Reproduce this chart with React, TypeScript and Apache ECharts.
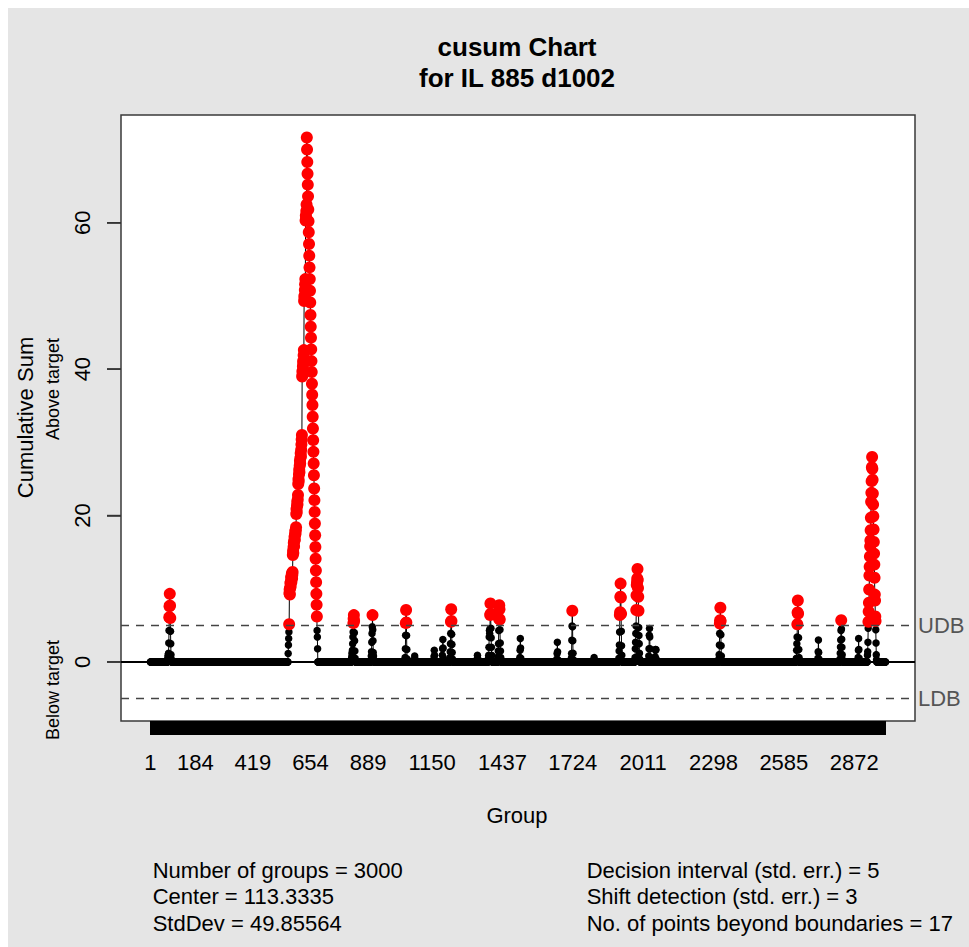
import React, { useEffect, useRef } from 'react';
import * as echarts from 'echarts';

// ---------------- data ----------------
const NUM_GROUPS = 3000;
const UDB = 5;
const LDB = -5;
const CENTER_LINE = 0;

const X_TICK_LABELS = [1, 184, 419, 654, 889, 1150, 1437, 1724, 2011, 2298, 2585, 2872];
const Y_TICK_VALUES = [0, 20, 40, 60];

// Non-zero stretches of the upper cumulative sum: first group of each stretch
const runStarts = [
  72, 563, 822, 902, 1040, 1078, 1158, 1192, 1223, 1334, 1380, 1419, 1508, 1659,
  1718, 1810, 1912, 1978, 2034, 2060, 2320, 2636, 2724, 2814, 2888, 2926,
];

// ...and the consecutive values of each stretch
const runValues = [
  [0.5, 0.9, 0.6, 1.2, 2.6, 4.3, 6.1, 7.6, 9.3, 7.7, 6.0, 4.2, 2.5, 1.0, 0.4],
  [
    1.15, 2.3, 3.2, 4.1, 5.15,
    9.4, 9.9, 9.2, 10.1, 10.8, 10.3, 11.0, 11.6, 10.9, 11.5, 12.1, 11.4, 11.9, 12.3,
    14.6, 15.2, 14.9, 15.7, 16.3, 15.8, 16.6, 17.1, 16.7, 17.4, 17.9, 17.5, 18.0, 18.4,
    20.2, 20.9, 20.5, 21.3, 21.9, 21.5, 22.2, 22.8,
    24.3, 25.0, 24.7, 25.6, 26.3, 25.9, 26.8, 27.5, 27.1, 27.9, 28.5, 28.1, 29.0, 29.7, 30.4, 31.0,
    39.0, 39.7, 39.3, 40.4, 41.1, 40.8, 41.9, 42.6,
    49.3, 50.0, 49.7, 50.8, 51.6, 52.3,
    60.3, 61.0, 60.7, 61.6, 62.5,
    71.65,
    70.0, 68.3, 66.7, 65.2, 63.6, 61.8, 60.2, 58.7, 57.1, 55.5, 53.9, 52.3, 50.7, 49.1, 47.4,
    45.8, 44.3, 42.7, 41.1, 39.6, 38.0, 36.5, 35.1, 33.5, 31.9, 30.3, 28.7, 27.1, 25.5, 23.7,
    22.1, 20.5, 18.9, 17.3, 15.7, 14.1, 12.5, 10.9, 9.3, 7.8, 6.2, 4.3, 3.4, 1.8,
  ],
  [0.6, 1.2, 0.8, 1.6, 2.5, 3.4, 4.1, 5.3, 5.9, 6.4, 5.6, 4.0, 2.9, 1.5, 0.5],
  [0.8, 1.4, 2.7, 3.9, 4.8, 6.4, 4.4, 2.9, 1.3, 0.8, 0.3],
  [0.6, 1.8, 3.65, 5.3, 7.1, 5.4, 3.6, 1.7, 0.4],
  [0.3, 0.8, 0.4],
  [0.7, 1.6, 0.9],
  [0.9, 1.8, 3.06, 1.9, 0.5],
  [0.6, 1.4, 2.5, 3.9, 5.5, 7.2, 5.6, 3.8, 2.4, 1.3, 0.4],
  [0.4, 0.9, 0.5],
  [0.5, 0.9, 2.0, 3.4, 4.3, 3.9, 4.5, 6.4, 8.0, 6.6, 4.6, 3.3, 2.0, 0.9, 0.3],
  [0.7, 1.5, 2.5, 4.3, 5.9, 7.75, 7.2, 5.8, 4.4, 2.6, 1.5, 0.6],
  [0.6, 1.6, 3.2, 1.9, 0.5],
  [0.4, 1.15, 2.7, 1.4, 0.3],
  [0.5, 1.15, 2.97, 4.9, 7.0, 4.8, 2.9, 1.2, 0.3],
  [0.3, 0.6, 0.2],
  [0.5, 1.5, 2.3, 4.1, 6.4, 6.8, 8.9, 10.7, 8.8, 6.6, 4.2, 2.2, 0.9],
  [0.6, 1.8, 2.7, 3.9, 4.9, 7.1, 9.1, 10.5, 10.9, 11.4, 12.7, 11.2, 10.1, 8.9, 7.0, 4.7, 3.6, 2.5, 1.2, 0.4],
  [0.8, 1.8, 3.65, 4.56, 3.4, 1.8, 0.6],
  [0.7, 1.7, 1.6, 1.7, 0.4],
  [0.4, 1.0, 2.3, 3.9, 5.25, 5.7, 7.4, 5.6, 3.7, 2.2, 0.8],
  [0.5, 1.6, 2.5, 3.4, 5.15, 6.75, 8.4, 6.6, 4.9, 3.3, 1.7, 0.6],
  [0.5, 1.4, 3.0, 1.3, 0.4],
  [0.4, 1.2, 2.05, 3.0, 4.3, 5.7, 4.5, 3.1, 2.0, 1.0, 0.3],
  [0.6, 1.6, 3.2, 1.7, 0.5],
  [
    0.9, 1.4, 2.7, 4.6, 5.5, 6.9, 8.1, 9.9, 11.8, 13.0, 14.4, 15.8, 16.6, 18.0, 19.7, 21.9,
    23.1, 24.7, 26.6, 28.0,
    26.4, 24.9, 23.0, 21.5, 19.9, 18.1, 16.4, 14.8, 13.3, 11.5, 9.2, 8.4, 6.2, 5.6, 4.4, 2.6,
    1.0, 0.3,
  ],
];

const TITLE = 'cusum Chart\nfor IL 885 d1002';
const statsLeft = ['Number of groups = 3000', 'Center = 113.3335', 'StdDev = 49.85564'];
const statsRight = [
  'Decision interval (std. err.) = 5',
  'Shift detection (std. err.) = 3',
  'No. of points beyond boundaries = 17',
];

// ---------------- layout ----------------
const W = 961;
const H = 939;
const FONT = "'Liberation Sans', Arial, Helvetica, sans-serif";
const GRID = { left: 113, top: 107, right: 54, bottom: 226 };
const X_MIN = -118.96;
const X_MAX = 3119.96;
const Y_MIN = -8.066;
const Y_MAX = 74.716;
const TICK_LEN = 14;
const GRID_W = W - GRID.left - GRID.right;
const TICK_SPAN = (TICK_LEN * (X_MAX - X_MIN)) / GRID_W; // tick length in x-axis units

function buildUpper(): number[][] {
  const vals: number[] = new Array(NUM_GROUPS).fill(0);
  runStarts.forEach((s, i) => {
    runValues[i].forEach((v, j) => {
      const g = s + j;
      if (g >= 1 && g <= NUM_GROUPS) vals[g - 1] = v;
    });
  });
  return vals.map((v, i) => [i + 1, v]);
}

export default function App() {
  const ref = useRef<HTMLDivElement>(null);
  useEffect(() => {
    document.documentElement.style.overflow = 'hidden';
    if (!ref.current) return;
    const chart = echarts.init(ref.current, undefined, { renderer: 'svg' });
    const upper = buildUpper();
    const beyond = upper.filter((p) => p[1] > UDB || p[1] < LDB);
    const allGroups: number[] = [];
    for (let g = 1; g <= NUM_GROUPS; g++) allGroups.push(g);

    const textEl = (text: string, x: number, y: number, size: number, extra: any = {}) => ({
      type: 'text',
      x,
      y,
      silent: true,
      ...extra,
      style: {
        text,
        fill: '#000',
        font: `${size}px ${FONT}`,
        align: 'left',
        verticalAlign: 'middle',
        ...(extra.style || {}),
      },
    });

    const texts: any[] = [
      textEl('Cumulative Sum', 17, 409.5, 22, { rotation: Math.PI / 2, style: { align: 'center' } }),
      textEl('Above target', 45, 381, 18, { rotation: Math.PI / 2, style: { align: 'center' } }),
      textEl('Below target', 45, 682, 18, { rotation: Math.PI / 2, style: { align: 'center' } }),
      textEl('Group', 509, 807, 22, { style: { align: 'center' } }),
      ...statsLeft.map((t, i) => textEl(t, 144.7, 862 + i * 26.5, 22)),
      ...statsRight.map((t, i) => textEl(t, 578.7, 862 + i * 26.5, 22)),
    ];

    chart.setOption({
      animation: false,
      backgroundColor: '#e5e5e5',
      title: {
        text: TITLE,
        left: 509,
        top: 23,
        padding: 0,
        textAlign: 'center',
        textStyle: { fontFamily: FONT, fontSize: 26, fontWeight: 'bold', lineHeight: 31, color: '#000' },
      },
      grid: {
        ...GRID,
        show: true,
        backgroundColor: '#ffffff',
        borderColor: '#3a3a3a',
        borderWidth: 1.5,
        containLabel: false,
        outerBoundsMode: 'none',
      },
      xAxis: [
        {
          type: 'value',
          min: X_MIN,
          max: X_MAX,
          axisLine: { show: false, onZero: false },
          splitLine: { show: false },
          axisTick: {
            show: true,
            length: TICK_LEN,
            customValues: allGroups,
            lineStyle: { color: '#000', width: 1 },
          },
          axisLabel: {
            show: true,
            customValues: X_TICK_LABELS,
            margin: 30,
            fontFamily: FONT,
            fontSize: 22,
            color: '#000',
            formatter: (v: number) => String(Math.round(v)),
          },
        },
        {
          type: 'value',
          min: 0,
          max: 1,
          show: false,
          axisLine: { onZero: false },
        },
      ],
      yAxis: {
        type: 'value',
        min: Y_MIN,
        max: Y_MAX,
        axisLine: { show: false, onZero: true, onZeroAxisIndex: 1 },
        splitLine: { show: false },
        axisTick: {
          show: true,
          length: TICK_LEN,
          customValues: Y_TICK_VALUES,
          lineStyle: { color: '#333', width: 1.5 },
        },
        axisLabel: {
          show: true,
          customValues: Y_TICK_VALUES,
          rotate: 90,
          margin: 28,
          fontFamily: FONT,
          fontSize: 22,
          color: '#000',
          formatter: (v: number) => String(Math.round(v)),
        },
      },
      series: [
        {
          type: 'line',
          name: 'cusum',
          data: upper,
          symbol: 'circle',
          symbolSize: 7.5,
          showSymbol: true,
          showAllSymbol: true,
          itemStyle: { color: '#000', opacity: 1 },
          lineStyle: { color: '#000', width: 1 },
          silent: true,
          z: 3,
          markLine: {
            silent: true,
            symbol: ['none', 'none'],
            animation: false,
            data: [
              {
                yAxis: UDB,
                name: 'UDB',
                lineStyle: { type: [8, 7], color: '#444', width: 1.3 },
                label: { show: true, position: 'end', formatter: 'UDB', distance: 3, color: '#555', fontFamily: FONT, fontSize: 22 },
              },
              {
                yAxis: LDB,
                name: 'LDB',
                lineStyle: { type: [8, 7], color: '#444', width: 1.3 },
                label: { show: true, position: 'end', formatter: 'LDB', distance: 3, color: '#555', fontFamily: FONT, fontSize: 22 },
              },
              {
                yAxis: CENTER_LINE,
                name: 'center',
                lineStyle: { type: 'solid', color: '#000', width: 2 },
                label: { show: false },
              },
            ],
          },
        },
        {
          type: 'scatter',
          name: 'beyond',
          data: beyond,
          symbol: 'circle',
          symbolSize: 12,
          itemStyle: { color: '#ff0000', opacity: 1 },
          silent: true,
          z: 4,
        },
        {
          // y-axis tick marks drawn as mark lines just outside the left edge
          type: 'scatter',
          name: 'yTicks',
          data: [],
          clip: false,
          silent: true,
          z: 6,
          markLine: {
            silent: true,
            symbol: ['none', 'none'],
            animation: false,
            lineStyle: { type: 'solid', color: '#333', width: 1.5 },
            label: { show: false },
            data: Y_TICK_VALUES.map((v) => [
              { coord: [X_MIN - TICK_SPAN, v] },
              { coord: [X_MIN, v] },
            ]),
          },
        },
      ],
      graphic: texts,
    });

    // y-axis tick marks, also placed through the chart's own scale
    const tickEls = Y_TICK_VALUES.map((v) => {
      const p = chart.convertToPixel({ xAxisIndex: 0, yAxisIndex: 0 }, [X_MIN, v]) as number[];
      return {
        type: 'rect',
        silent: true,
        z: 100,
        shape: { x: p[0] - TICK_LEN, y: p[1] - 0.75, width: TICK_LEN, height: 1.5 },
        style: { fill: '#333333' },
      };
    });
    chart.setOption({ graphic: [...texts, ...tickEls] });

    return () => chart.dispose();
  }, []);
  return (
    <div
      ref={ref}
      style={{ position: 'fixed', left: 8, top: 8, width: W, height: H }}
    />
  );
}
